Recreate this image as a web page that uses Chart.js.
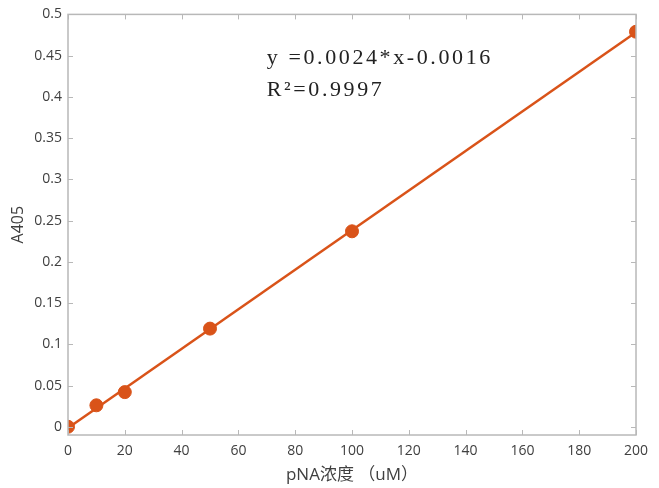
<!DOCTYPE html>
<html>
<head>
<meta charset="utf-8">
<script src="https://cdn.jsdelivr.net/npm/chart.js@4/dist/chart.umd.min.js"></script>
<style>
  html, body { margin: 0; padding: 0; background: #fff; }
  #wrap { width: 659px; height: 488px; }
</style>
</head>
<body>
<div id="wrap"><canvas id="chart" width="659" height="488"></canvas></div>
<script>
// дані з картинки
const conc = [0, 10, 20, 50, 100, 200];
const absorb = [0, 0.026, 0.042, 0.119, 0.237, 0.479];

// лінія регресії (кінці)
const fitX = [0, 200];
const fitY = [-0.0016, 0.4784];

const xTicks = [0, 20, 40, 60, 80, 100, 120, 140, 160, 180, 200];
const yTicks = [0, 0.05, 0.1, 0.15, 0.2, 0.25, 0.3, 0.35, 0.4, 0.45, 0.5];

const eqLines = ['y =0.0024*x-0.0016', 'R²=0.9997'];
const eqPos = [[70, 0.447], [70, 0.408]];

const orange = '#D95319';
const textColor = '#404040';
const axisColor = '#b8b8b8';
const uiFont = "'Open Sans', 'Noto Sans CJK SC'";

// рамка та тіки всередину з усіх боків
const boxPlugin = {
  id: 'box',
  afterDatasetsDraw(chart) {
    const { ctx, chartArea: a, scales } = chart;
    ctx.save();
    ctx.strokeStyle = axisColor;
    ctx.lineWidth = 1.5;
    ctx.strokeRect(a.left, a.top, a.right - a.left, a.bottom - a.top);
    ctx.lineWidth = 1;
    const len = 5;
    xTicks.forEach(v => {
      const px = Math.round(scales.x.getPixelForValue(v)) + 0.5;
      ctx.beginPath();
      ctx.moveTo(px, a.bottom); ctx.lineTo(px, a.bottom - len);
      ctx.moveTo(px, a.top); ctx.lineTo(px, a.top + len);
      ctx.stroke();
    });
    yTicks.forEach(v => {
      const py = Math.round(scales.y.getPixelForValue(v)) + 0.5;
      ctx.beginPath();
      ctx.moveTo(a.left, py); ctx.lineTo(a.left + len, py);
      ctx.moveTo(a.right, py); ctx.lineTo(a.right - len, py);
      ctx.stroke();
    });
    ctx.restore();
  },
  afterDraw(chart) {
    const { ctx, scales } = chart;
    ctx.save();
    ctx.fillStyle = '#222';
    ctx.font = "22px 'Liberation Serif'";
    ctx.letterSpacing = '2.6px';
    ctx.textBaseline = 'middle';
    eqLines.forEach((t, i) => {
      ctx.fillText(t, scales.x.getPixelForValue(eqPos[i][0]), scales.y.getPixelForValue(eqPos[i][1]));
    });
    ctx.restore();
  }
};

new Chart(document.getElementById('chart'), {
  type: 'scatter',
  data: {
    datasets: [
      {
        label: 'data',
        data: conc.map((x, i) => ({ x: x, y: absorb[i] })),
        backgroundColor: orange,
        borderColor: orange,
        pointRadius: 6.5,
        showLine: false
      },
      {
        label: 'fit',
        data: fitX.map((x, i) => ({ x: x, y: fitY[i] })),
        borderColor: orange,
        borderWidth: 2.5,
        pointRadius: 0,
        showLine: true
      }
    ]
  },
  plugins: [boxPlugin],
  options: {
    responsive: false,
    animation: false,
    layout: { padding: { left: 0, top: 10, right: 23, bottom: 0 } },
    plugins: {
      legend: { display: false },
      tooltip: { enabled: false }
    },
    scales: {
      x: {
        type: 'linear',
        min: 0,
        max: 200,
        afterBuildTicks: s => { s.ticks = xTicks.map(v => ({ value: v })); },
        afterFit: s => { s.height = 53; },
        grid: { display: false, drawTicks: false },
        border: { display: false },
        ticks: {
          color: textColor,
          padding: 8,
          font: { family: uiFont, size: 14 }
        },
        title: {
          display: true,
          text: 'pNA浓度 （uM）',
          color: textColor,
          padding: { top: 0, bottom: 3 },
          font: { family: uiFont, size: 17 }
        }
      },
      y: {
        type: 'linear',
        min: -0.01,
        max: 0.5,
        afterBuildTicks: s => { s.ticks = yTicks.map(v => ({ value: v })); },
        afterFit: s => { s.width = 68; },
        grid: { display: false, drawTicks: false },
        border: { display: false },
        ticks: {
          color: textColor,
          padding: 6,
          callback: v => String(+v.toFixed(2)),
          font: { family: uiFont, size: 14 }
        },
        title: {
          display: true,
          text: 'A405',
          color: textColor,
          padding: { top: 9 },
          font: { family: uiFont, size: 16 }
        }
      }
    }
  }
});
</script>
</body>
</html>
